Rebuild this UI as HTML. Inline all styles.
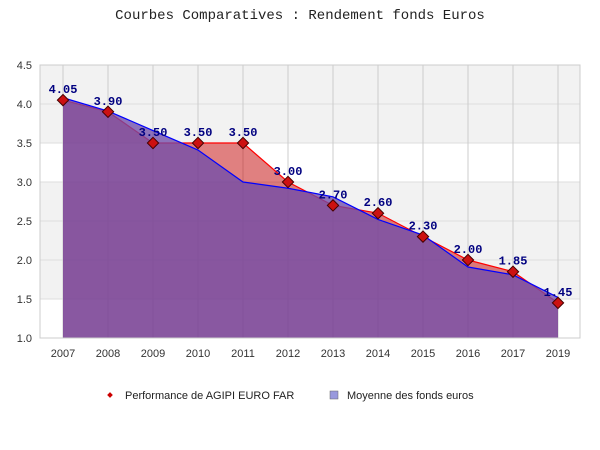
<!DOCTYPE html>
<html><head><meta charset="utf-8"><style>
body{margin:0;background:#fff;width:600px;height:450px;overflow:hidden}
svg{display:block}
</style></head><body>
<svg id="chart" width="600" height="450" xmlns="http://www.w3.org/2000/svg">
<text x="300" y="19" text-anchor="middle" font-family="Liberation Mono, monospace" font-size="14" fill="#222">Courbes Comparatives : Rendement fonds Euros</text>
<g id="grid"></g><g id="areas"></g><g id="marks"></g><g id="axes"></g>
<g>
<rect x="108" y="393" width="4" height="4" transform="rotate(45 110 395)" fill="#c00"/>
<text x="125" y="399" font-family="Liberation Sans, sans-serif" font-size="11" fill="#222">Performance de AGIPI EURO FAR</text>
<rect x="330" y="391" width="8" height="8" fill="#9999dd" stroke="#666" stroke-width="0.5"/>
<text x="347" y="399" font-family="Liberation Sans, sans-serif" font-size="11" fill="#222">Moyenne des fonds euros</text>
</g>
</svg>
<script>
const categories=["2007","2008","2009","2010","2011","2012","2013","2014","2015","2016","2017","2019"];
const agipi=[4.05,3.90,3.50,3.50,3.50,3.00,2.70,2.60,2.30,2.00,1.85,1.45];
const moyenne=[4.08,3.91,3.66,3.41,3.00,2.92,2.81,2.52,2.32,1.91,1.81,1.52];
const yTicks=[1.0,1.5,2.0,2.5,3.0,3.5,4.0,4.5];
const labels=["4.05","3.90","3.50","3.50","3.50","3.00","2.70","2.60","2.30","2.00","1.85","1.45"];
const L=40,R=580,T=65,B=338,ymin=1,ymax=4.5;
const x=i=>63+i*((558-63)/(categories.length-1));
const y=v=>B-(v-ymin)/(ymax-ymin)*(B-T);
const NS="http://www.w3.org/2000/svg";
function mk(p,t,a){const e=document.createElementNS(NS,t);for(const k in a)e.setAttribute(k,a[k]);p.appendChild(e);return e;}
const grid=document.getElementById('grid'),areas=document.getElementById('areas'),marks=document.getElementById('marks'),axes=document.getElementById('axes');
for(let i=0;i<yTicks.length-1;i++){
 if(i%2==0){const r=mk(grid,'rect',{x:L,y:y(yTicks[i+1]),width:R-L,height:y(yTicks[i])-y(yTicks[i+1]),fill:i%4==0?'#ffffff':'#f2f2f2'});
 
 }
 else{const r=mk(grid,'rect',{x:L,y:y(yTicks[i+1]),width:R-L,height:y(yTicks[i])-y(yTicks[i+1]),fill:'#f2f2f2'});
 
 }
}
yTicks.forEach(v=>{const l=mk(grid,'line',{x1:L,x2:R,y1:y(v),y2:y(v),stroke:'#ddd'});
 
 
 const t=mk(axes,'text',{x:L-8,y:y(v)+4,'text-anchor':'end','font-family':'Liberation Sans, sans-serif','font-size':'11',fill:'#333'});t.textContent=v.toFixed(1);
 
 });
categories.forEach((c,i)=>{const l=mk(grid,'line',{x1:x(i),x2:x(i),y1:T,y2:B,stroke:'#ccc'});
 
 
 const t=mk(axes,'text',{x:x(i),y:B+19,'text-anchor':'middle','font-family':'Liberation Sans, sans-serif','font-size':'11',fill:'#333'});t.textContent=c;
 
 });
const fr=mk(axes,'rect',{x:L,y:T,width:R-L,height:B-T,fill:'none',stroke:'#ccc'});


function area(vals,fill,op,stroke,name){
 let d='M'+x(0)+','+B;vals.forEach((v,i)=>d+=' L'+x(i)+','+y(v));d+=' L'+x(vals.length-1)+','+B+' Z';
 const a=mk(areas,'path',{d:d,fill:fill,'fill-opacity':op});
 
 
 const pl=mk(areas,'polyline',{points:vals.map((v,i)=>x(i)+','+y(v)).join(' '),fill:'none',stroke:stroke,'stroke-width':1.2});
 
 
}
area(agipi,'#c10101',0.5,'#ff0000','agipi');
area(moyenne,'#6e4caa',0.77,'#0000ff','moyenne');
agipi.forEach((v,i)=>{
 const m=mk(marks,'rect',{x:x(i)-4,y:y(v)-4,width:8,height:8,fill:'#cc1111',stroke:'#400',transform:`rotate(45 ${x(i)} ${y(v)})`});
 
 
 const t=mk(marks,'text',{x:x(i),y:y(v)-7,'text-anchor':'middle','font-family':'Liberation Mono, monospace','font-size':'12','font-weight':'bold',fill:'#000080'});t.textContent=labels[i];
 
 
});
</script>
</body></html>
